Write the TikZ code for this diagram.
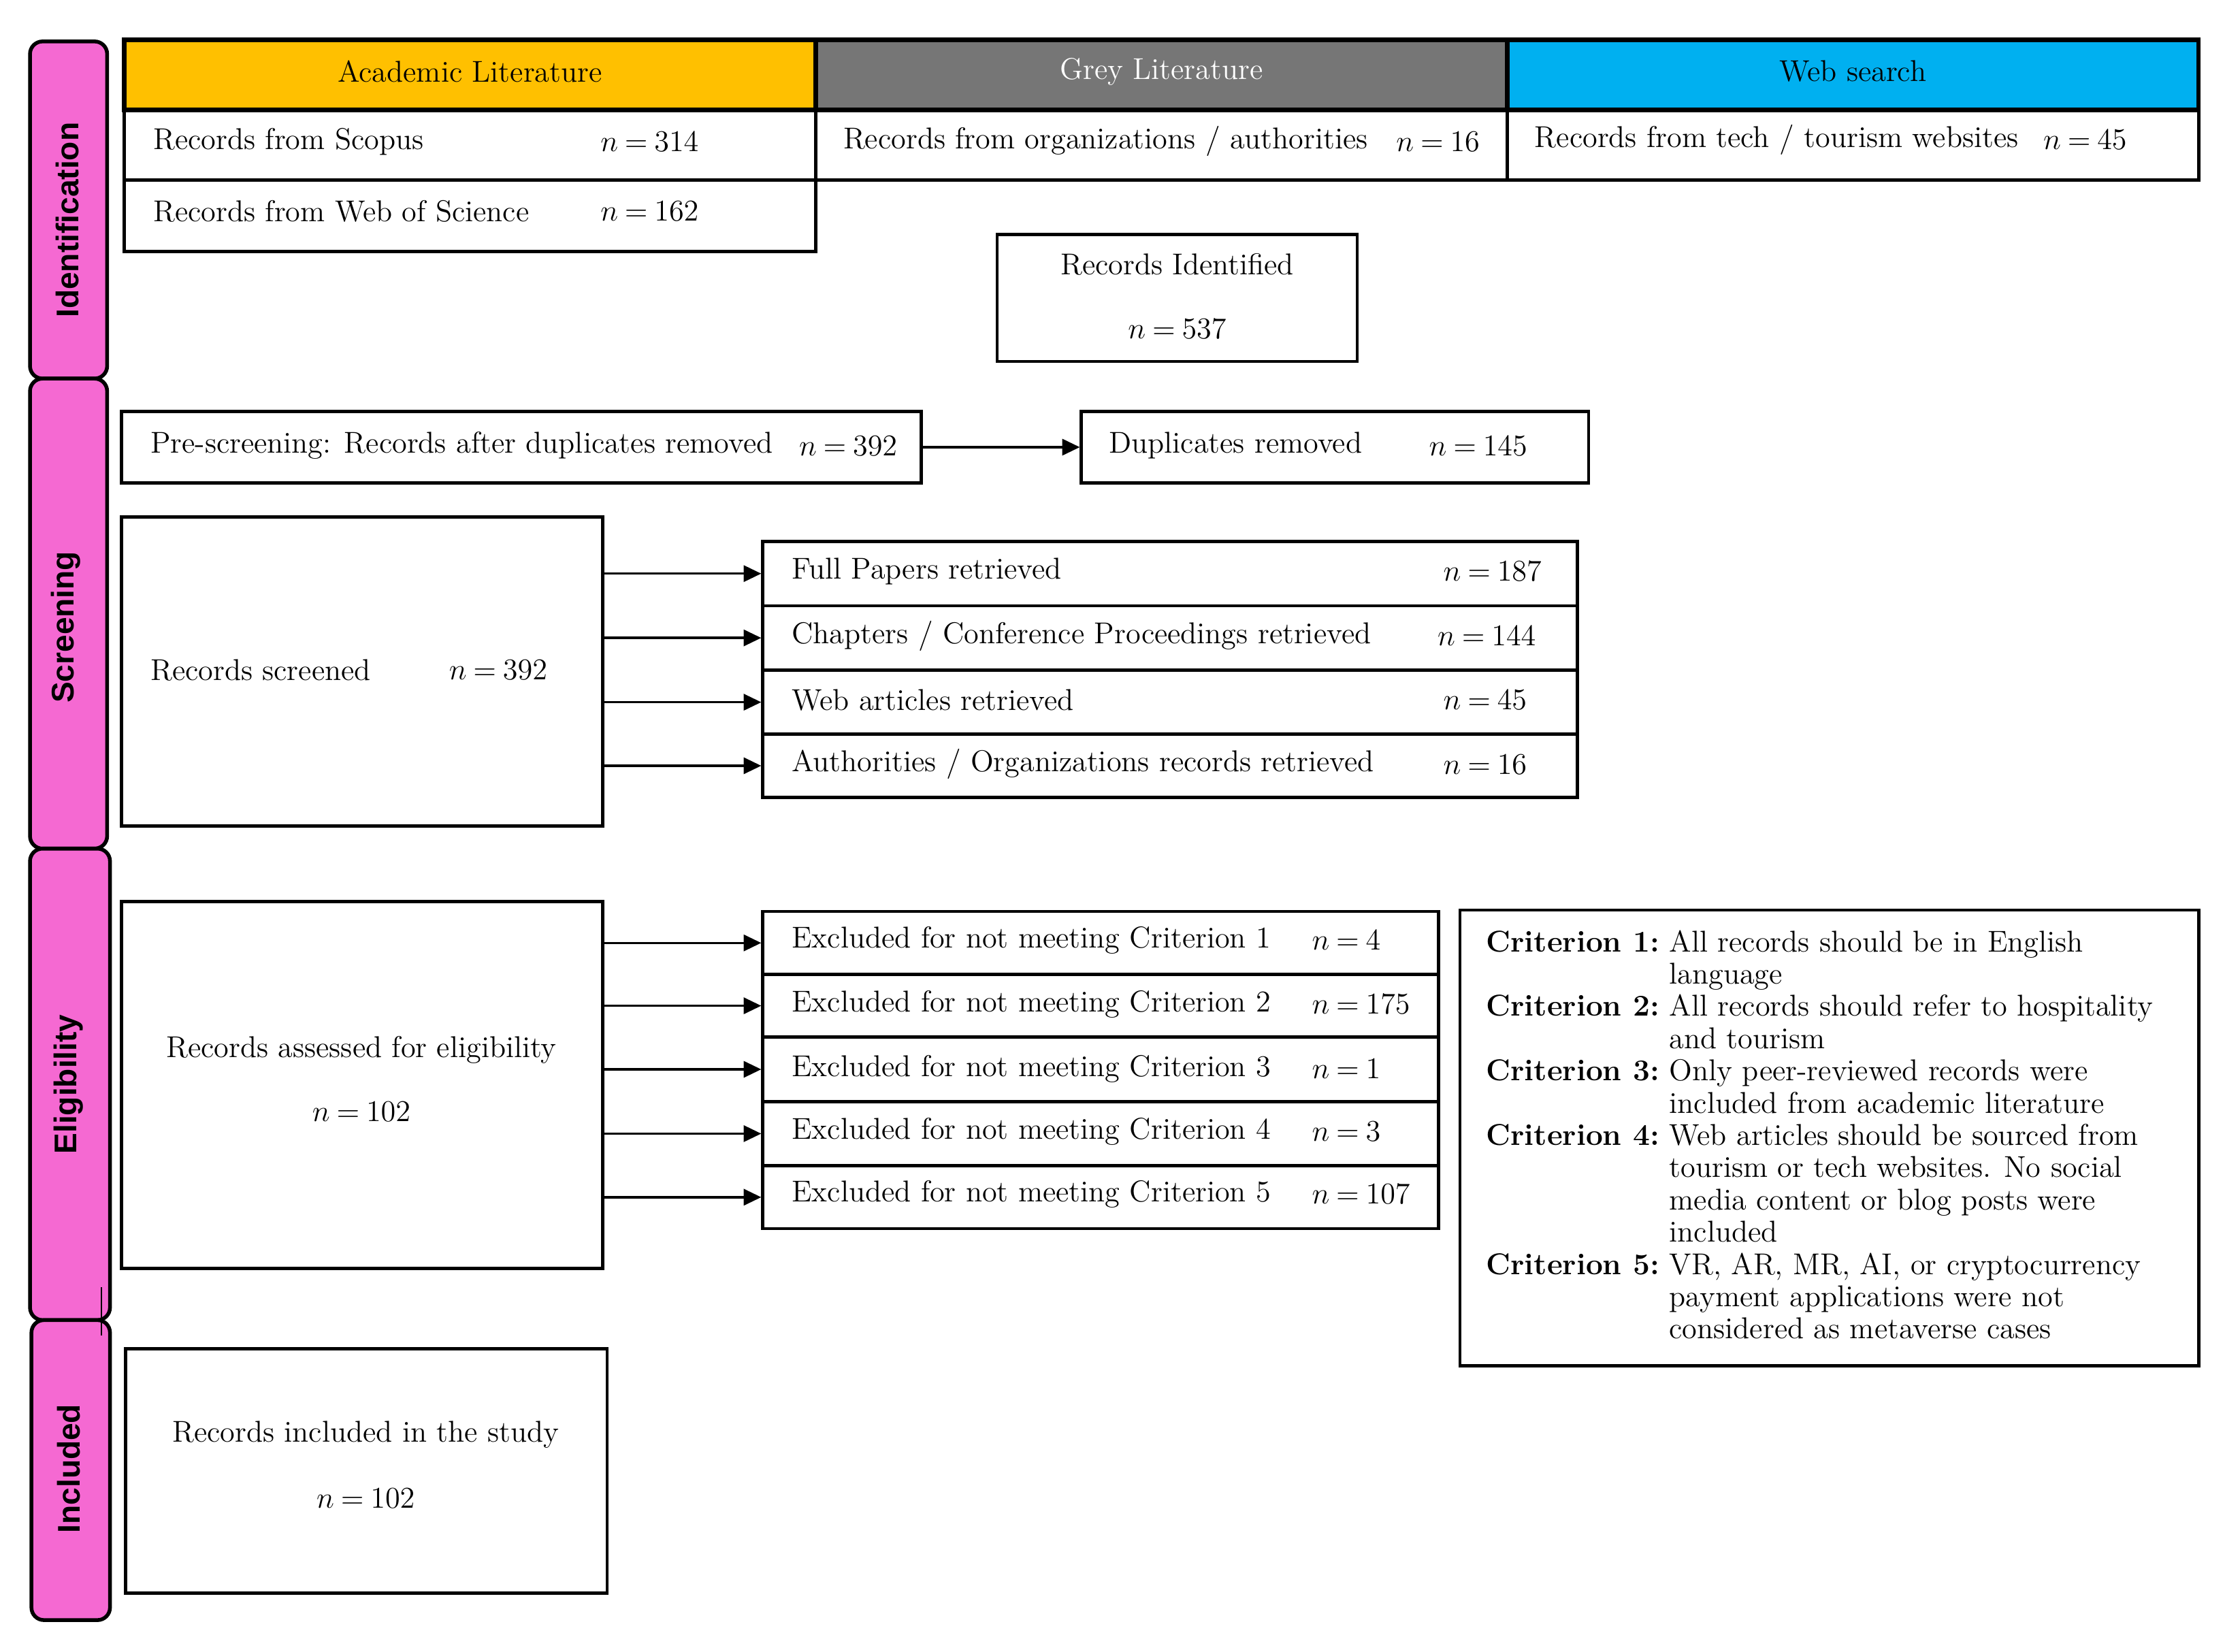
\documentclass[tikz,border=0pt]{standalone}
\usepackage{fontspec}
\usetikzlibrary{fit,arrows.meta}
\newfontfamily\barfont{Liberation Sans}
\definecolor{acad}{HTML}{FFC000}
\definecolor{greyhd}{HTML}{767676}
\definecolor{webhd}{HTML}{00B0F0}
\definecolor{pinkbar}{HTML}{F569D2}
\newcommand\nval[1]{$n\mskip4mu{=}\mskip4mu#1$}
\begin{document}
\begin{tikzpicture}[x=0.02cm,y=-0.02cm,
  every node/.style={font=\fontsize{12}{14.4}\selectfont},
  box/.style={draw=black, line width=1.3pt, inner sep=0pt},
  hdr/.style={draw=black, line width=1.8pt, inner sep=0pt},
  bar/.style={draw=black, line width=1.5pt, fill=pinkbar, rounded corners=5pt, inner sep=0pt},
  lbl/.style={anchor=west, inner sep=0pt},
  ctr/.style={inner sep=0pt},
  barlbl/.style={rotate=90, inner sep=0pt, font=\barfont\bfseries\fontsize{12.5}{15}\selectfont},
  arr/.style={line width=0.9pt, -{Triangle[length=7pt,width=6.5pt]}}
]
\useasboundingbox[fill=white] (0,0) rectangle (1568,1156);

% side bars
\node[bar, fit={(21,29) (75,265)}] (idbar) {};
\node[bar, fit={(21,265) (75,594)}] (scbar) {};
\node[bar, fit={(21,594) (77,924)}] (elbar) {};
\node[bar, fit={(22,924) (77,1134)}] (inbar) {};
\node[barlbl] (idlbl) at (47,154) {Identification};
\node[barlbl] (sclbl) at (46,439) {Screening};
\node[barlbl] (ellbl) at (48,759) {Eligibility};
\node[barlbl] (inlbl) at (48,1028) {Included};
\draw[line width=0.6pt] (71,901) -- (71,935);

% header
\node[hdr, fill=acad, fit={(87,28) (571,77)}] (hA) {};
\node[hdr, fill=greyhd, fit={(571,28) (1055,77)}] (hG) {};
\node[hdr, fill=webhd, fit={(1055,28) (1539,77)}] (hW) {};
\node[ctr] (hAt) at (329,50) {Academic Literature};
\node[ctr, text=white] (hGt) at (813,50) {Grey Literature};
\node[ctr] (hWt) at (1297,50) {Web search};

% identification rows
\node[box, fit={(87,77) (571,126)}] (scopus) {};
\node[lbl] (scopusT) at (107,99) {Records from Scopus};
\node[lbl] (scopusN) at (420,99) {\nval{314}};
\node[box, fit={(87,126) (571,176)}] (wos) {};
\node[lbl] (wosT) at (107,148) {Records from Web of Science};
\node[lbl] (wosN) at (420,148) {\nval{162}};
\node[box, fit={(571,77) (1055,126)}] (orgs) {};
\node[lbl] (orgsT) at (590,99) {Records from organizations / authorities};
\node[lbl] (orgsN) at (977,99) {\nval{16}};
\node[box, fit={(1055,77) (1539,126)}] (tech) {};
\node[lbl] (techT) at (1074,98) {Records from tech / tourism websites};
\node[lbl] (techN) at (1430,98) {\nval{45}};

\node[box, fit={(698,164) (950,253)}] (ident) {};
\node[ctr] (identT) at (824,185) {Records Identified};
\node[ctr] (identN) at (824,230) {\nval{537}};

% screening
\node[box, fit={(85,288) (645,338)}] (pre) {};
\node[lbl] (preT) at (105,312) {Pre-screening: Records after duplicates removed};
\node[lbl] (preN) at (559,312) {\nval{392}};
\node[box, fit={(757,288) (1112,338)}] (dup) {};
\node[lbl] (dupT) at (776,312) {Duplicates removed};
\node[lbl] (dupN) at (1000,312) {\nval{145}};
\draw[arr] (pre.east) -- (dup.west);

\node[box, fit={(85,362) (422,578)}] (scr) {};
\node[lbl] (scrT) at (105,469) {Records screened};
\node[lbl] (scrN) at (314,469) {\nval{392}};

\node[box, fit={(534,379) (1104,424)}] (r1) {};
\node[box, fit={(534,424) (1104,469)}] (r2) {};
\node[box, fit={(534,469) (1104,514)}] (r3) {};
\node[box, fit={(534,514) (1104,558)}] (r4) {};
\node[lbl] (r1T) at (554,400) {Full Papers retrieved};
\node[lbl] (r1N) at (1010,400) {\nval{187}};
\node[lbl] (r2T) at (554,445) {Chapters / Conference Proceedings retrieved};
\node[lbl] (r2N) at (1006,445) {\nval{144}};
\node[lbl] (r3T) at (554,490) {Web articles retrieved};
\node[lbl] (r3N) at (1010,490) {\nval{45}};
\node[lbl] (r4T) at (554,535) {Authorities / Organizations records retrieved};
\node[lbl] (r4N) at (1010,535) {\nval{16}};
\foreach \r in {r1,r2,r3,r4} \draw[arr] (scr.east |- \r.west) -- (\r.west);

% eligibility
\node[box, fit={(85,631) (422,888)}] (elig) {};
\node[ctr] (eligT) at (253,735) {Records assessed for eligibility};
\node[ctr] (eligN) at (253,778) {\nval{102}};

\node[box, fit={(534,638) (1007,682)}] (e1) {};
\node[box, fit={(534,682) (1007,726)}] (e2) {};
\node[box, fit={(534,726) (1007,771)}] (e3) {};
\node[box, fit={(534,771) (1007,816)}] (e4) {};
\node[box, fit={(534,816) (1007,860)}] (e5) {};
\node[lbl] (e1T) at (554,658) {Excluded for not meeting Criterion 1};
\node[lbl] (e1N) at (918,658) {\nval{4}};
\node[lbl] (e2T) at (554,703) {Excluded for not meeting Criterion 2};
\node[lbl] (e2N) at (918,703) {\nval{175}};
\node[lbl] (e3T) at (554,748) {Excluded for not meeting Criterion 3};
\node[lbl] (e3N) at (918,748) {\nval{1}};
\node[lbl] (e4T) at (554,792) {Excluded for not meeting Criterion 4};
\node[lbl] (e4N) at (918,792) {\nval{3}};
\node[lbl] (e5T) at (554,836) {Excluded for not meeting Criterion 5};
\node[lbl] (e5N) at (918,836) {\nval{107}};
\foreach \e in {e1,e2,e3,e4,e5} \draw[arr] (elig.east |- \e.west) -- (\e.west);

\node[box, fit={(1022,637) (1539,956)}] (crit) {};
\node[anchor=north west, inner sep=0pt, font=\fontsize{12}{12.85}\selectfont] (critT) at (1040,650) {%
\begin{tabular}{@{}l@{\hspace{4pt}}l@{}}
\textbf{Criterion 1:} & All records should be in English\\
 & language\\
\textbf{Criterion 2:} & All records should refer to hospitality\\
 & and tourism\\
\textbf{Criterion 3:} & Only peer-reviewed records were\\
 & included from academic literature\\
\textbf{Criterion 4:} & Web articles should be sourced from\\
 & tourism or tech websites. No social\\
 & media content or blog posts were\\
 & included\\
\textbf{Criterion 5:} & VR, AR, MR, AI, or cryptocurrency\\
 & payment applications were not\\
 & considered as metaverse cases
\end{tabular}};

% included
\node[box, fit={(88,944) (425,1115)}] (incl) {};
\node[ctr] (inclT) at (256,1004) {Records included in the study};
\node[ctr] (inclN) at (256,1049) {\nval{102}};
\end{tikzpicture}
\end{document}
